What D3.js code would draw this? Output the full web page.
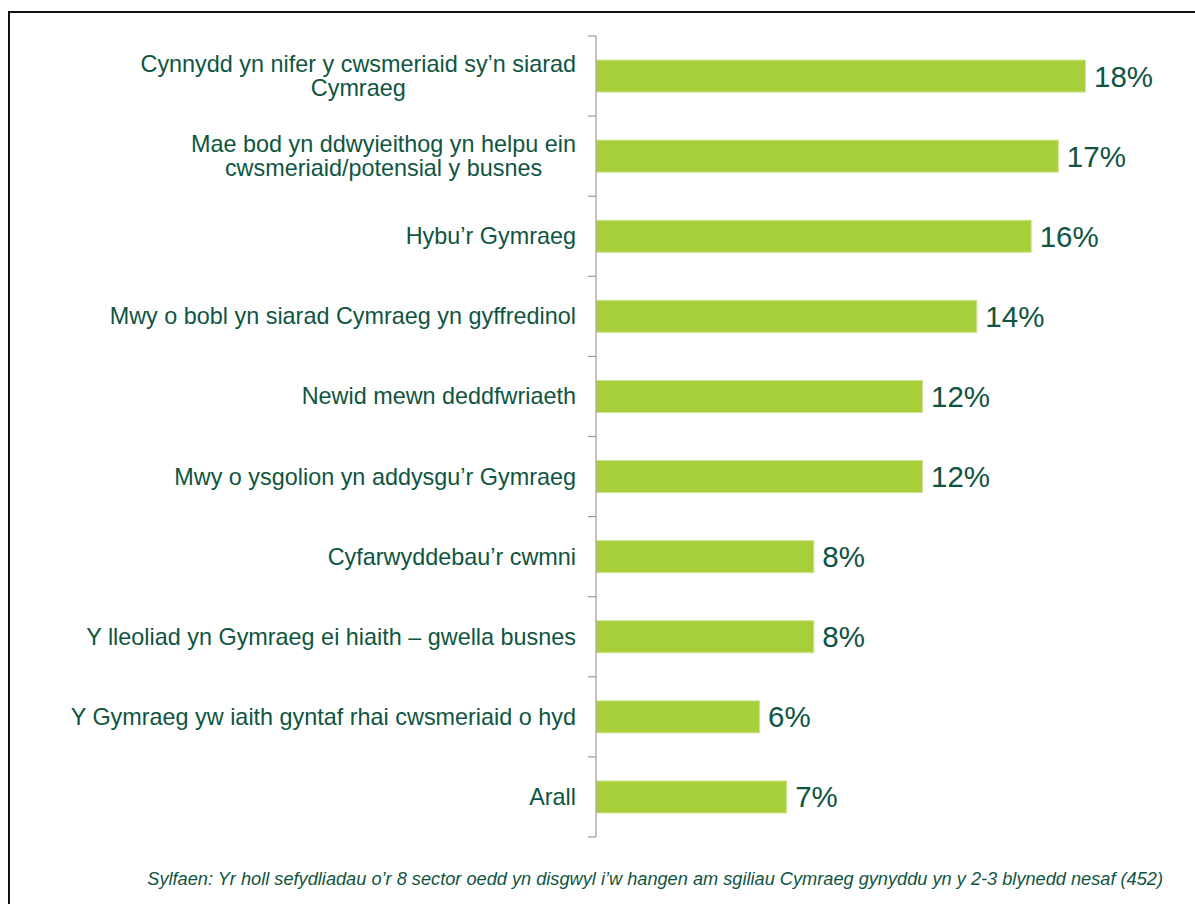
<!DOCTYPE html>
<html>
<head>
<meta charset="utf-8">
<script src="https://cdn.jsdelivr.net/npm/d3@7"></script>
<style>
  html, body { margin: 0; padding: 0; background: #fff; }
  svg { display: block; font-family: "Liberation Sans", Arial, sans-serif; }
</style>
</head>
<body>
<svg id="chart" width="1195" height="904"></svg>
<script>
const categories = [
  "Cynnydd yn nifer y cwsmeriaid sy’n siarad\nCymraeg",
  "Mae bod yn ddwyieithog yn helpu ein\ncwsmeriaid/potensial y busnes",
  "Hybu’r Gymraeg",
  "Mwy o bobl yn siarad Cymraeg yn gyffredinol",
  "Newid mewn deddfwriaeth",
  "Mwy o ysgolion yn addysgu’r Gymraeg",
  "Cyfarwyddebau’r cwmni",
  "Y lleoliad yn Gymraeg ei hiaith – gwella busnes",
  "Y Gymraeg yw iaith gyntaf rhai cwsmeriaid o hyd",
  "Arall"
];
const values = [18, 17, 16, 14, 12, 12, 8, 8, 6, 7];
const valueLabels = ["18%", "17%", "16%", "14%", "12%", "12%", "8%", "8%", "6%", "7%"];
const footnote = "Sylfaen: Yr holl sefydliadau o’r 8 sector oedd yn disgwyl i’w hangen am sgiliau Cymraeg gynyddu yn y 2-3 blynedd nesaf (452)";

const svg = d3.select("#chart");
const textColor = "#0f5541";
const barColor = "#a7cf3a";

// frame
svg.append("path")
  .attr("d", "M9,904V12H1195")
  .attr("fill", "none")
  .attr("stroke", "#111")
  .attr("stroke-width", 2);

const axisX = 596;
const y = d3.scaleBand()
  .domain(categories)
  .range([36, 837])
  .paddingInner(0.6)
  .paddingOuter(0.3);

const x = d3.scaleLinear().domain([0, 18]).range([axisX, 1085]);

// bars
svg.append("g").selectAll("rect")
  .data(categories)
  .join("rect")
  .attr("x", x(0) + 0.5)
  .attr("y", d => y(d))
  .attr("width", (d, i) => x(values[i]) - x(0))
  .attr("height", y.bandwidth())
  .attr("fill", barColor)
  .attr("stroke", "#cfe595")
  .attr("stroke-width", 1);

// axis line and ticks
const step = y.step();
const boundaries = categories.map(c => y(c) - step * 0.3).concat([y(categories[categories.length - 1]) + y.bandwidth() + step * 0.3]);
const ag = svg.append("g").attr("stroke", "#9a9a9a").attr("stroke-width", 1.2);
ag.append("line")
  .attr("x1", axisX).attr("x2", axisX)
  .attr("y1", boundaries[0]).attr("y2", boundaries[boundaries.length - 1]);
ag.selectAll("line.tick")
  .data(boundaries)
  .join("line")
  .attr("class", "tick")
  .attr("x1", axisX - 8).attr("x2", axisX)
  .attr("y1", d => d).attr("y2", d => d);

// category labels
const labelRight = 576;
const fs = 23.4, lh = 24;
const lg = svg.append("g").attr("fill", textColor).style("font-size", fs + "px");
categories.forEach(c => {
  const lines = c.split("\n");
  const cy = y(c) + y.bandwidth() / 2;
  const t = lg.append("text").attr("dominant-baseline", "central");
  lines.forEach((ln, j) => {
    t.append("tspan").text(ln)
      .attr("y", cy + (j - (lines.length - 1) / 2) * lh);
  });
  if (lines.length === 1) {
    t.attr("text-anchor", "end").select("tspan").attr("x", labelRight);
  } else {
    const widths = [];
    t.selectAll("tspan").each(function() { widths.push(this.getComputedTextLength()); });
    const maxW = d3.max(widths);
    t.attr("text-anchor", "middle").selectAll("tspan").attr("x", labelRight - maxW / 2);
  }
});

// value labels
svg.append("g").selectAll("text")
  .data(categories)
  .join("text")
  .attr("x", (d, i) => x(values[i]) + 9)
  .attr("y", d => y(d) + y.bandwidth() / 2)
  .attr("dominant-baseline", "central")
  .attr("fill", textColor)
  .style("font-size", "29.5px")
  .text((d, i) => valueLabels[i]);

// footnote
svg.append("text")
  .attr("x", 1163)
  .attr("y", 885)
  .attr("text-anchor", "end")
  .attr("fill", textColor)
  .style("font-size", "18.2px")
  .style("font-style", "italic")
  .text(footnote);
</script>
</body>
</html>
